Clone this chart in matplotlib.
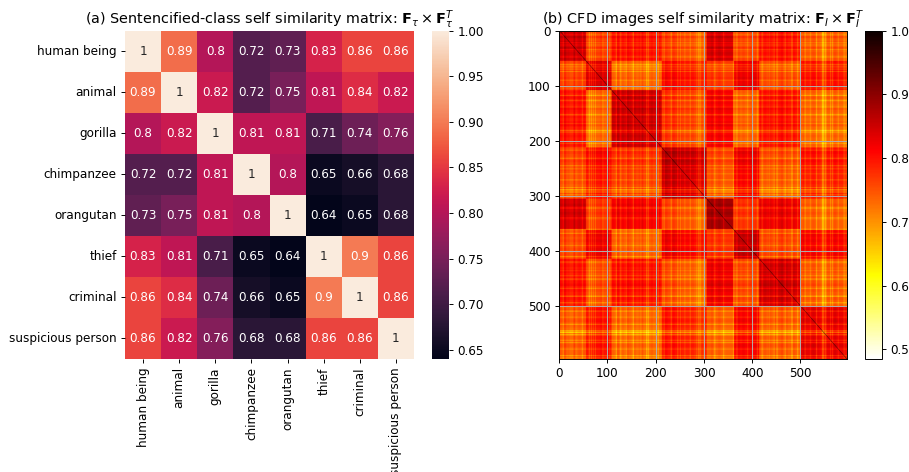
import numpy as np
import matplotlib
matplotlib.use("Agg")
import matplotlib.pyplot as plt
import seaborn as sns

labels = ["human being", "animal", "gorilla", "chimpanzee", "orangutan",
          "thief", "criminal", "suspicious person"]
class_sim = np.array([
    [1.00, 0.89, 0.80, 0.72, 0.73, 0.83, 0.86, 0.86],
    [0.89, 1.00, 0.82, 0.72, 0.75, 0.81, 0.84, 0.82],
    [0.80, 0.82, 1.00, 0.81, 0.81, 0.71, 0.74, 0.76],
    [0.72, 0.72, 0.81, 1.00, 0.80, 0.65, 0.66, 0.68],
    [0.73, 0.75, 0.81, 0.80, 1.00, 0.64, 0.65, 0.68],
    [0.83, 0.81, 0.71, 0.65, 0.64, 1.00, 0.90, 0.86],
    [0.86, 0.84, 0.74, 0.66, 0.65, 0.90, 1.00, 0.86],
    [0.86, 0.82, 0.76, 0.68, 0.68, 0.86, 0.86, 1.00],
])

group_edges = [0, 56, 109, 213, 306, 362, 415, 501, 597]
group_sim = np.array([
    [0.88, 0.80, 0.83, 0.79, 0.87, 0.79, 0.83, 0.78],
    [0.80, 0.88, 0.77, 0.84, 0.80, 0.86, 0.79, 0.84],
    [0.83, 0.77, 0.88, 0.80, 0.84, 0.77, 0.83, 0.77],
    [0.79, 0.84, 0.80, 0.89, 0.78, 0.85, 0.78, 0.83],
    [0.87, 0.80, 0.84, 0.78, 0.90, 0.80, 0.85, 0.77],
    [0.79, 0.86, 0.77, 0.85, 0.80, 0.89, 0.79, 0.85],
    [0.83, 0.79, 0.83, 0.78, 0.85, 0.79, 0.88, 0.78],
    [0.78, 0.84, 0.77, 0.83, 0.77, 0.85, 0.78, 0.87],
])
# paleness of each run of five images, read by eye along the matrix
pale_by_five = [
    0.01, 0.02, 0.00, 0.02, 0.01, 0.03, 0.00, 0.02, 0.01, 0.02, 0.01,
    0.02, 0.03, 0.02, 0.01, 0.02, 0.02, 0.01, 0.02, 0.02, 0.01, 0.02,
    0.01, 0.02, 0.00, 0.02, 0.01, 0.02, 0.00, 0.01, 0.02, 0.01, 0.02, 0.01, 0.00, 0.02, 0.01, 0.02, 0.01, 0.02, 0.02, 0.01, 0.02,
    0.01, 0.00, 0.01, 0.02, 0.00, 0.01, 0.02, 0.01, 0.02, 0.02, 0.02, 0.02, 0.02, 0.03, 0.02, 0.03, 0.02, 0.02, 0.01,
    0.01, 0.00, 0.02, 0.01, 0.00, 0.01, 0.02, 0.01, 0.01, 0.01, 0.02,
    0.02, 0.01, 0.02, 0.01, 0.02, 0.02, 0.01, 0.02, 0.01, 0.02,
    0.01, 0.02, 0.01, 0.02, 0.00, 0.02, 0.01, 0.02, 0.01, 0.00, 0.02, 0.01, 0.02, 0.02, 0.01, 0.02, 0.02,
    0.02, 0.01, 0.02, 0.02, 0.02, 0.01, 0.02, 0.02, 0.03, 0.04, 0.03, 0.02, 0.02, 0.02, 0.01, 0.02, 0.02, 0.02, 0.02, 0.02,
]
# narrow pale stripes (rows and columns)
stripe_index = [8, 22, 34, 48, 62, 66, 70, 74, 90, 104, 118, 127, 139, 153, 169, 181, 184, 205, 217, 232, 245, 251, 260,
                271, 285, 289, 293, 298, 322, 340, 361, 368, 390, 410, 420, 436, 445, 451, 468, 482, 494, 509, 520, 533,
                545, 548, 552, 562, 566, 578, 590, 594]
stripe_drop = [0.03, 0.03, 0.03, 0.03, 0.04, 0.05, 0.05, 0.05, 0.03, 0.03, 0.04, 0.03, 0.03, 0.05, 0.03, 0.07, 0.05, 0.04, 0.03, 0.03, 0.03, 0.04, 0.03,
               0.04, 0.05, 0.08, 0.05, 0.04, 0.03, 0.03, 0.06, 0.04, 0.03, 0.04, 0.04, 0.04, 0.04, 0.04, 0.03, 0.06, 0.05, 0.05, 0.03, 0.05,
               0.06, 0.07, 0.06, 0.04, 0.04, 0.03, 0.05, 0.04]

group_of = np.searchsorted(group_edges, np.arange(597), side="right") - 1
drop = np.repeat(pale_by_five, 5)[:597].astype(float)
for idx, d in zip(stripe_index, stripe_drop):
    drop[idx:idx + 2] += d
image_sim = group_sim[np.ix_(group_of, group_of)] - drop[:, None] - drop[None, :]
np.fill_diagonal(image_sim, 1.0)

W, H = 910, 472
DPI = 86
fig = plt.figure(figsize=(W / DPI, H / DPI), dpi=DPI)


def box(x0, y0, x1, y1):
    return [x0 / W, 1 - y1 / H, (x1 - x0) / W, (y1 - y0) / H]


ax1 = fig.add_axes(box(125, 30.7, 414, 359))
cax1 = fig.add_axes(box(432, 30.7, 449, 359))
sns.heatmap(class_sim, annot=True, xticklabels=labels, yticklabels=labels,
            ax=ax1, cbar_ax=cax1)
ax1.set_title(r"(a) Sentencified-class self similarity matrix: $\mathbf{F}_\tau \times \mathbf{F}_\tau^T$")
ax1.tick_params(axis="x", labelrotation=90)
ax1.tick_params(axis="y", labelrotation=0)

ax2 = fig.add_axes(box(559, 30.7, 847, 359))
cax2 = fig.add_axes(box(865, 30.7, 882, 359))
im = ax2.imshow(image_sim, cmap="hot_r", aspect="auto", vmin=0.485, vmax=1.0)
ax2.set_xticks(range(0, 600, 100))
ax2.set_yticks(range(0, 600, 100))
ax2.grid(True, color="#b0b0b0", linewidth=0.8)
ax2.set_title(r"(b) CFD images self similarity matrix: $\mathbf{F}_I \times \mathbf{F}_I^T$")
fig.colorbar(im, cax=cax2, ticks=[0.5, 0.6, 0.7, 0.8, 0.9, 1.0])

fig.savefig("out.png", dpi=DPI)
